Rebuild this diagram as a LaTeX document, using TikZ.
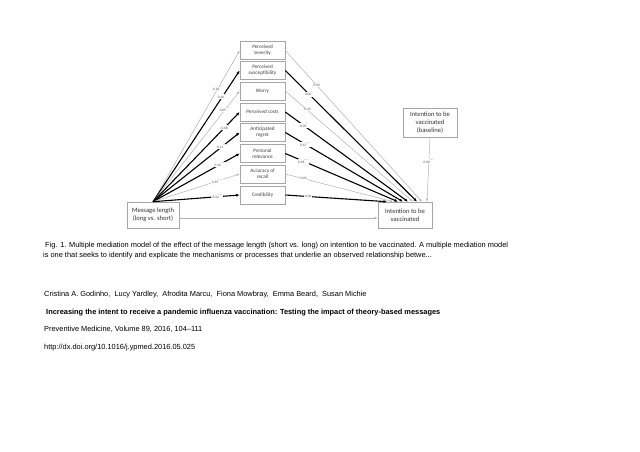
\documentclass[tikz,border=0pt]{standalone}
\usepackage{fontspec}
\setmainfont{Liberation Sans}
\newfontfamily\diag{Carlito}
\usetikzlibrary{arrows.meta}
\begin{document}
\begin{tikzpicture}[x=1pt,y=-1pt,
  med/.style={draw=gray!70, line width=0.6pt, minimum width=45pt, minimum height=18pt, inner sep=0pt, align=center, font=\diag\fontsize{5.2}{5.8}\selectfont, text=black!75},
  big/.style={draw=gray!70, line width=0.6pt, align=center, inner sep=0pt, font=\diag\fontsize{6.6}{7.8}\selectfont, text=black!80},
  sig/.style={line width=1.1pt, black, -{Latex[length=3.5pt,width=3pt]}},
  ns/.style={line width=0.5pt, gray!60, -{Latex[length=3pt,width=2.2pt]}},
  coef/.style={fill=white, inner sep=0.5pt, font=\diag\fontsize{3.5}{3.5}\selectfont, text=black!70},
  txt/.style={anchor=base west, inner sep=0pt, font=\fontsize{7.4}{8.5}\selectfont}
]
\useasboundingbox[fill=white] (0,0) rectangle (640,452);
% mediators
\node[med] (sev) at (262.5,50.5) {Perceived\\severity};
\node[med] (sus) at (262.5,70.5) {Perceived\\susceptibility};
\node[med] (wor) at (262.5,91) {Worry};
\node[med] (cos) at (262.5,112) {Perceived costs};
\node[med] (reg) at (262.5,132.5) {Anticipated\\regret};
\node[med] (rel) at (262.5,153.5) {Personal\\relevance};
\node[med] (acc) at (262.5,174) {Accuracy of\\recall};
\node[med] (cre) at (262.5,195) {Credibility};
% main boxes
\node[big, minimum width=52pt, minimum height=26pt] (msg) at (153,215) {Message length\\(long vs. short)};
\node[big, minimum width=54pt, minimum height=26pt] (int) at (405,215) {Intention to be\\vaccinated};
\node[big, minimum width=54pt, minimum height=29pt] (base) at (430,122.5) {Intention to be\\vaccinated\\(baseline)};
% left paths
\draw[ns]  (msg.north) -- (sev.west) node[coef,pos=0.75]{0.18\textsuperscript{***}};
\draw[sig] (msg.north) -- (sus.west) node[coef,pos=0.80]{0.10\textsuperscript{**}};
\draw[ns]  (msg.north) -- (wor.west) node[coef,pos=0.83]{0.09\textsuperscript{***}};
\draw[sig] (msg.north) -- (cos.west) node[coef,pos=0.83]{-0.08\textsuperscript{*}};
\draw[sig] (msg.north) -- (reg.west) node[coef,pos=0.80]{0.11\textsuperscript{***}};
\draw[sig] (msg.north) -- (rel.west) node[coef,pos=0.77]{0.16\textsuperscript{***}};
\draw[ns]  (msg.north) -- (acc.west) node[coef,pos=0.74]{0.29\textsuperscript{***}};
\draw[sig] (msg.north) -- (cre.west) node[coef,pos=0.74]{-0.10\textsuperscript{***}};
% right paths
\draw[ns]  (sev.east) -- ([xshift=17pt]int.north) node[coef,pos=0.23]{0.03};
\draw[sig] (sus.east) -- ([xshift=12pt]int.north) node[coef,pos=0.18]{0.06\textsuperscript{*}};
\draw[ns]  (wor.east) -- ([xshift=8pt]int.north) node[coef,pos=0.17]{-0.03};
\draw[sig] (cos.east) -- ([xshift=3pt]int.north) node[coef,pos=0.15]{-0.05\textsuperscript{*}};
\draw[sig] (reg.east) -- ([xshift=-2pt]int.north) node[coef,pos=0.17]{0.15\textsuperscript{***}};
\draw[sig] (rel.east) -- ([xshift=-7pt]int.north) node[coef,pos=0.16]{0.18\textsuperscript{***}};
\draw[ns]  (acc.east) -- ([xshift=-12pt]int.north) node[coef,pos=0.17]{0.03};
\draw[sig] (cre.east) -- ([xshift=-18pt]int.north) node[coef,pos=0.22]{-0.04};
% baseline and direct
\draw[ns] (base.south) -- ([xshift=22pt]int.north) node[coef,pos=0.38]{0.60\textsuperscript{***}};
\draw[ns] ([yshift=-3pt]msg.east) -- ([yshift=-3pt]int.west);
% text
\node[txt] (cap1) at (45,247.5) {Fig. 1. Multiple mediation model of the effect of the message length (short vs. long) on intention to be vaccinated. A multiple mediation model};
\node[txt] (cap2) at (43,257.5) {is one that seeks to identify and explicate the mechanisms or processes that underlie an observed relationship betwe...};
\node[txt] (auth) at (44,296.5) {Cristina A. Godinho,\ \ Lucy Yardley,\ \ Afrodita Marcu,\ \ Fiona Mowbray,\ \ Emma Beard,\ \ Susan Michie};
\node[txt, font=\fontsize{7.4}{8.5}\selectfont\bfseries] (title) at (46,314.5) {Increasing the intent to receive a pandemic influenza vaccination: Testing the impact of theory-based messages};
\node[txt] (jour) at (44,331.5) {Preventive Medicine, Volume 89, 2016, 104–111};
\node[txt] (doi) at (44,349.5) {http://dx.doi.org/10.1016/j.ypmed.2016.05.025};
\end{tikzpicture}
\end{document}
